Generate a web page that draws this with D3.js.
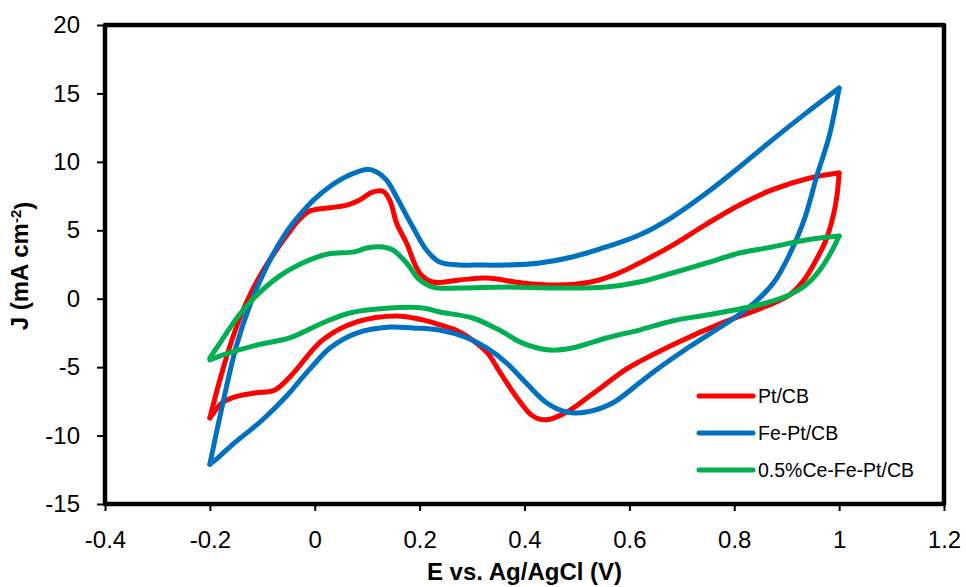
<!DOCTYPE html>
<html>
<head>
<meta charset="utf-8">
<script src="https://cdn.jsdelivr.net/npm/d3@7"></script>
<style>
  html, body { margin: 0; padding: 0; background: #fff; }
  svg { display: block; font-family: Arial, "Liberation Sans", sans-serif; }
</style>
</head>
<body>
<svg id="chart" width="966" height="587"></svg>
<script>
// ---- data (E in V vs Ag/AgCl, J in mA cm-2), forward sweep then reverse sweep ----
const seriesNames = ["Pt/CB", "Fe-Pt/CB", "0.5%Ce-Fe-Pt/CB"];
const seriesColors = ["#FF0000", "#0070C0", "#00B050"];

const ptCB = [
  [-0.200,-8.71],[-0.181,-5.94],[-0.158,-3.02],[-0.133,-0.50],[-0.101,1.90],[-0.067,3.90],
  [-0.048,4.90],[-0.029,5.80],[-0.010,6.40],[0.029,6.65],[0.061,6.84],[0.086,7.21],
  [0.110,7.79],[0.130,7.85],[0.143,7.21],[0.156,5.53],[0.175,4.07],[0.200,1.88],
  [0.225,1.22],[0.276,1.37],[0.328,1.51],[0.396,1.15],[0.461,1.00],[0.524,1.20],
  [0.575,1.80],[0.619,2.60],[0.682,3.90],[0.747,5.45],[0.810,6.85],[0.872,7.95],
  [0.937,8.75],[1.000,9.18],
  [0.996,7.56],[0.989,6.10],[0.975,4.29],[0.954,2.68],[0.933,1.37],[0.905,0.27],
  [0.867,-0.46],[0.842,-0.83],[0.777,-1.77],[0.682,-3.38],[0.619,-4.60],[0.594,-5.15],
  [0.530,-6.95],[0.480,-8.30],[0.442,-8.85],[0.415,-8.55],[0.385,-7.20],[0.352,-5.30],
  [0.330,-4.00],[0.300,-3.00],[0.270,-2.30],[0.238,-1.90],[0.206,-1.55],[0.156,-1.26],
  [0.080,-1.70],[0.015,-3.02],[-0.044,-5.57],[-0.076,-6.67],[-0.114,-6.89],[-0.152,-7.18],
  [-0.177,-7.62],[-0.196,-8.50],[-0.200,-8.71]
];

const fePtCB = [
  [-0.200,-12.10],[-0.181,-8.64],[-0.150,-3.53],[-0.124,-0.50],[-0.091,2.40],[-0.057,4.70],
  [-0.029,6.10],[0.000,7.30],[0.029,8.20],[0.061,8.95],[0.099,9.45],[0.118,9.26],
  [0.137,8.67],[0.156,7.43],[0.187,5.24],[0.213,3.56],[0.238,2.68],[0.276,2.46],
  [0.301,2.46],[0.366,2.46],[0.429,2.61],[0.491,3.05],[0.556,3.78],[0.619,4.65],
  [0.682,5.97],[0.747,7.72],[0.810,9.62],[0.872,11.59],[0.937,13.56],[1.000,15.39],
  [0.981,11.86],[0.958,9.03],[0.933,5.73],[0.905,3.19],[0.876,1.22],[0.838,-0.31],
  [0.800,-1.41],[0.714,-3.53],[0.651,-5.21],[0.619,-6.16],[0.568,-7.62],[0.518,-8.28],
  [0.480,-8.28],[0.442,-7.60],[0.404,-6.20],[0.366,-4.70],[0.328,-3.60],[0.290,-2.85],
  [0.238,-2.29],[0.187,-2.14],[0.143,-2.07],[0.080,-2.51],[0.029,-3.60],[-0.006,-5.00],
  [-0.029,-6.00],[-0.051,-7.00],[-0.101,-8.90],[-0.152,-10.50],[-0.190,-11.80],[-0.200,-12.10]
];

const ceFePtCB = [
  [-0.200,-4.33],[-0.177,-3.02],[-0.147,-1.33],[-0.114,0.12],[-0.070,1.58],[-0.019,2.68],
  [0.025,3.27],[0.076,3.42],[0.099,3.70],[0.130,3.78],[0.149,3.56],[0.175,2.61],
  [0.200,1.37],[0.225,0.85],[0.276,0.78],[0.366,0.85],[0.461,0.78],[0.556,0.85],
  [0.619,1.22],[0.682,1.88],[0.747,2.61],[0.810,3.34],[0.872,3.78],[0.937,4.29],[1.000,4.58],
  [0.987,3.56],[0.966,2.24],[0.943,1.22],[0.905,0.27],[0.867,-0.24],[0.829,-0.61],
  [0.747,-1.19],[0.682,-1.63],[0.619,-2.29],[0.556,-2.87],[0.491,-3.60],[0.448,-3.75],
  [0.396,-3.24],[0.352,-2.29],[0.301,-1.41],[0.238,-0.97],[0.206,-0.68],[0.143,-0.68],
  [0.067,-1.04],[0.015,-1.77],[-0.048,-2.87],[-0.110,-3.38],[-0.175,-4.11],[-0.200,-4.48]
];

const xTickValues = [-0.4, -0.2, 0, 0.2, 0.4, 0.6, 0.8, 1, 1.2];
const yTickValues = [-15, -10, -5, 0, 5, 10, 15, 20];
const xTitle = "E vs. Ag/AgCl (V)";

// ---- layout ----
const svg = d3.select("#chart");
const mLeft = 105, mRight = 944, mTop = 25, mBottom = 504;

const x = d3.scaleLinear().domain([-0.4, 1.2]).range([mLeft, mRight]);
const y = d3.scaleLinear().domain([-15, 20]).range([mBottom, mTop]);

const fmt = d => String(d);

// axes
const xAxis = svg.append("g").attr("transform", `translate(0,${mBottom})`)
  .call(d3.axisBottom(x).tickValues(xTickValues).tickFormat(fmt).tickSize(7).tickPadding(20).tickSizeOuter(0));
const yAxis = svg.append("g").attr("transform", `translate(${mLeft},0)`)
  .call(d3.axisLeft(y).tickValues(yTickValues).tickFormat(fmt).tickSize(8).tickPadding(17).tickSizeOuter(0));

[xAxis, yAxis].forEach(g => {
  g.select(".domain").remove();
  g.selectAll(".tick line").attr("stroke", "#000").attr("stroke-width", 2);
  g.selectAll(".tick text").attr("fill", "#000").style("font-size", "24px")
    .style("font-family", "Arial, 'Liberation Sans', sans-serif");
});

// series
const allSeries = [ptCB, fePtCB, ceFePtCB];
const lineGen = d3.line()
  .x(d => x(d[0])).y(d => y(d[1]))
  .curve(d3.curveCatmullRom.alpha(0.5));

const plot = svg.append("g");
allSeries.forEach((data, i) => {
  const turn = d3.maxIndex(data, d => d[0]);
  const parts = [data.slice(0, turn + 1), data.slice(turn)];
  parts.forEach(p => {
    plot.append("path")
      .attr("d", lineGen(p))
      .attr("fill", "none")
      .attr("stroke", seriesColors[i])
      .attr("stroke-width", 5)
      .attr("stroke-linecap", "round")
      .attr("stroke-linejoin", "round");
  });
});

// frame
svg.append("rect")
  .attr("x", mLeft).attr("y", mTop)
  .attr("width", mRight - mLeft).attr("height", mBottom - mTop)
  .attr("fill", "none").attr("stroke", "#000").attr("stroke-width", 4.5)
  .attr("stroke-linejoin", "round");

// legend
const legendY = [396, 433, 470];
const legend = svg.append("g");
seriesNames.forEach((name, i) => {
  legend.append("line")
    .attr("x1", 699).attr("x2", 753)
    .attr("y1", legendY[i]).attr("y2", legendY[i])
    .attr("stroke", seriesColors[i]).attr("stroke-width", 5)
    .attr("stroke-linecap", "round");
  legend.append("text")
    .attr("x", 758).attr("y", legendY[i])
    .attr("dy", "0.35em")
    .style("font-size", "19.5px")
    .attr("fill", "#000")
    .text(name);
});

// axis titles
svg.append("text")
  .attr("x", (mLeft + mRight) / 2).attr("y", 580)
  .attr("text-anchor", "middle")
  .style("font-size", "24px").style("font-weight", "bold")
  .text(xTitle);

const yt = svg.append("text")
  .attr("transform", "translate(28,266) rotate(-90)")
  .attr("text-anchor", "middle")
  .style("font-size", "24px").style("font-weight", "bold");
yt.append("tspan").text("J (mA cm");
yt.append("tspan").attr("dy", "-0.45em").style("font-size", "15px").text("-2");
yt.append("tspan").attr("dy", "0.45em").text(")");
</script>
</body>
</html>
